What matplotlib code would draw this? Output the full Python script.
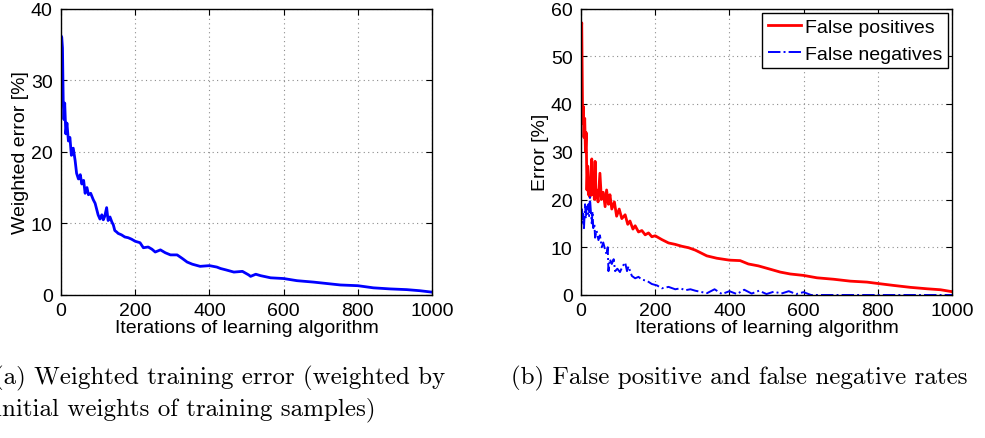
import numpy as np
import matplotlib
matplotlib.use("Agg")
from matplotlib import pyplot as plt

# weighted training error (left panel)
it_w = [0, 2, 4, 6, 8, 10, 13, 16, 20, 24, 28, 33, 38, 42, 47, 52, 56, 61, 65, 70,
        74, 80, 87, 92, 96, 100, 105, 110, 114, 118, 123, 127, 132, 137, 141, 145,
        150, 154, 163, 172, 181, 190, 200, 213, 222, 235, 245, 254, 268, 281, 295,
        313, 327, 340, 354, 375, 400, 420, 430, 445, 466, 489, 506, 511, 525, 538,
        565, 600, 636, 681, 717, 753, 800, 842, 887, 932, 967, 1000]
err_w = [36.2, 36.0, 34.5, 27.0, 24.5, 26.8, 22.5, 24.0, 21.5, 22.0, 19.5, 20.5,
         18.8, 17.0, 16.2, 16.8, 15.5, 16.0, 14.2, 15.0, 14.0, 14.2, 13.3, 12.8,
         12.0, 11.2, 10.6, 11.2, 10.5, 11.0, 12.2, 10.4, 10.9, 10.2, 9.8, 9.0, 8.8,
         8.6, 8.4, 8.1, 8.0, 7.8, 7.5, 7.3, 6.6, 6.7, 6.4, 6.0, 6.3, 5.9, 5.6, 5.6,
         5.1, 4.6, 4.3, 4.0, 4.1, 3.9, 3.7, 3.5, 3.2, 3.3, 2.8, 2.6, 2.9, 2.7, 2.4,
         2.3, 2.0, 1.8, 1.6, 1.4, 1.3, 1.0, 0.85, 0.75, 0.6, 0.4]

# false positives (right panel)
it_fp = [0, 2, 4, 5, 6, 8, 10, 12, 14, 16, 18, 20, 22, 24, 27, 29, 31, 33, 36, 38,
         40, 42, 46, 51, 55, 60, 65, 69, 74, 78, 83, 90, 96, 103, 110, 119, 126,
         132, 140, 146, 155, 164, 173, 182, 191, 200, 218, 236, 254, 272, 290, 308,
         321, 339, 366, 400, 429, 451, 478, 510, 537, 564, 600, 636, 681, 726, 771,
         801, 843, 888, 933, 969, 1000]
fp = [54, 57, 40, 36, 39.5, 33, 37, 30, 34, 22, 27, 21, 24, 20.5, 26, 28.5, 21, 25,
      20, 28, 20.5, 22, 19.5, 25.5, 20, 21.5, 18.5, 22, 19, 21, 18, 19.5, 16.5, 18,
      16, 16.8, 14.8, 15.5, 13.8, 14.5, 13.2, 13.5, 12.6, 13, 12.2, 12.4, 11.6,
      10.9, 10.6, 10.2, 9.9, 9.4, 8.9, 8.2, 7.7, 7.3, 7.2, 6.5, 6.1, 5.4, 4.8, 4.4,
      4.1, 3.6, 3.3, 2.9, 2.7, 2.4, 2.0, 1.6, 1.3, 1.1, 0.7]

# false negatives (right panel)
it_fn = [0, 2, 4, 6, 8, 11, 13, 15, 18, 20, 22, 24, 27, 29, 31, 33, 36, 38, 42, 47,
         51, 56, 60, 65, 69, 72, 74, 78, 83, 88, 92, 98, 105, 112, 119, 124, 128,
         137, 146, 155, 164, 177, 191, 205, 218, 236, 254, 268, 281, 295, 308, 326,
         340, 360, 380, 400, 420, 440, 460, 480, 500, 520, 540, 560, 580, 600, 620,
         640, 700, 800, 900, 1000]
fn = [13, 18, 15, 17, 14, 19, 16, 18.5, 17, 19, 16.5, 20.5, 17, 15, 17.5, 14, 15,
      12, 13.5, 11.5, 12.5, 10, 11, 9.5, 8.5, 10, 5, 7.5, 6.5, 7.5, 5, 5.5, 4.8, 6,
      6.8, 5, 6, 4, 3.5, 3.8, 3.2, 3.0, 2.3, 2.0, 1.4, 1.7, 1.2, 1.4, 1.0, 1.2, 0.9,
      0.6, 0.4, 1.2, 0.2, 0.8, 0.2, 1.1, 0.3, 0.9, 0.2, 0.7, 0.3, 0.8, 0.2, 0.6, 0.0,
      0, 0, 0, 0, 0]

plt.rcParams['font.family'] = ['Liberation Sans', 'DejaVu Sans']
fs = 14

fig = plt.figure(figsize=(9.85, 4.39), dpi=100)
ax1 = fig.add_axes([61/985, 1-296/439, 371/985, 286.5/439])
ax2 = fig.add_axes([581/985, 1-296/439, 371/985, 286.5/439])

ax1.plot(it_w, err_w, color='blue', lw=2.0)
ax2.plot(it_fp, fp, color='red', lw=2.0, label='False positives')
ax2.plot(it_fn, fn, color='blue', lw=1.4, ls='-.', label='False negatives')

for ax, ymax, ylab in [(ax1, 40, 'Weighted error [%]'), (ax2, 60, 'Error [%]')]:
    ax.set_xlim(0, 1000)
    ax.set_ylim(0, ymax)
    ax.set_xticks([0, 200, 400, 600, 800, 1000])
    ax.set_yticks(np.arange(0, ymax + 1, 10))
    ax.grid(True, color='0.55', ls=(0, (1, 3)), lw=0.8)
    ax.tick_params(direction='in', top=True, right=True, length=4, labelsize=fs)
    ax.tick_params(axis='y', pad=6)
    ax.tick_params(axis='x', pad=5)
    ax.set_xlabel('Iterations of learning algorithm', fontsize=fs, labelpad=0)
    ax.set_ylabel(ylab, fontsize=fs, labelpad=1)
    for s in ax.spines.values():
        s.set_linewidth(1.0)

leg = ax2.legend(loc='upper right', fontsize=fs, fancybox=False, framealpha=1,
                 edgecolor='black', handlelength=1.7, borderaxespad=0.22,
                 borderpad=0.3, labelspacing=0.45, handletextpad=0.2)
leg.get_frame().set_linewidth(1.0)

cap = dict(family='cmr10', fontsize=18, va='center', ha='left')
fig.text(-6/985, 1-378/439, '(a) Weighted training error (weighted by', **cap)
fig.text(-5/985, 1-410/439, 'initial weights of training samples)', **cap)
fig.text(511/985, 1-378/439, '(b) False positive and false negative rates', **cap)

fig.savefig('out.png', dpi=100)
